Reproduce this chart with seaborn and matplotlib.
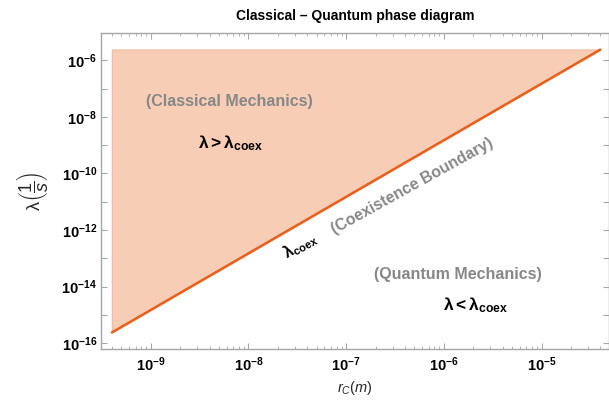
import numpy as np
import pandas as pd
import matplotlib
matplotlib.use('Agg')
import matplotlib.pyplot as plt
import matplotlib.ticker as mticker
import seaborn as sns

# boundary line lambda_coex(r_C)
r_c = [4e-10, 4e-5]
lam_coex = [2.4e-16, 2.4e-6]
lam_top = 2.4e-6  # top edge of the shaded classical region

x_ticks = [1e-9, 1e-8, 1e-7, 1e-6, 1e-5]
x_labels = ['-9', '-8', '-7', '-6', '-5']
y_ticks = [1e-16, 1e-14, 1e-12, 1e-10, 1e-8, 1e-6]
y_labels = ['-16', '-14', '-12', '-10', '-8', '-6']

sns.set_style('ticks')
plt.rcParams['font.family'] = ['Liberation Sans', 'DejaVu Sans']
plt.rcParams['text.color'] = 'black'
plt.rcParams['mathtext.fontset'] = 'custom'
plt.rcParams['mathtext.rm'] = 'Liberation Sans'
plt.rcParams['mathtext.it'] = 'Liberation Sans:italic'
plt.rcParams['mathtext.bf'] = 'Liberation Sans:bold'
plt.rcParams['mathtext.bfit'] = 'Liberation Sans:bold:italic'

frame = '#a6a6a6'
line_col = '#e8601c'
fill_col = '#f8cdb6'
gray_txt = '#878787'

df = pd.DataFrame({'r_c': r_c, 'lam': lam_coex})

fig = plt.figure(figsize=(6.09, 4.01), dpi=100)
ax = fig.add_axes([0.166, 0.13, 0.834, 0.7865])

ax.fill_between(df['r_c'], df['lam'], lam_top, color=fill_col, edgecolor='#f4bd9f',
                linewidth=1.0, zorder=1)
sns.lineplot(data=df, x='r_c', y='lam', ax=ax, color=line_col, linewidth=1.8, zorder=3)

ax.set_xscale('log')
ax.set_yscale('log')
ax.set_xlim(10 ** -9.509, 10 ** -4.309)
ax.set_ylim(10 ** -16.2, 10 ** -5.05)

ax.xaxis.set_major_locator(mticker.FixedLocator(x_ticks))
ax.xaxis.set_major_formatter(mticker.FixedFormatter(
    [r'$\mathbf{10^{%s}}$' % s for s in x_labels]))
ax.xaxis.set_minor_locator(mticker.LogLocator(base=10, subs=np.arange(2, 10), numticks=20))
ax.xaxis.set_minor_formatter(mticker.NullFormatter())

ax.yaxis.set_major_locator(mticker.FixedLocator(y_ticks))
ax.yaxis.set_major_formatter(mticker.FixedFormatter(
    [r'$\mathbf{10^{%s}}$' % s for s in y_labels]))
ax.yaxis.set_minor_locator(mticker.FixedLocator([10.0 ** k for k in range(-17, -4, 2)]))
ax.yaxis.set_minor_formatter(mticker.NullFormatter())

ax.tick_params(which='both', direction='in', top=True, right=True, color=frame,
               labelsize=10.5, labelcolor='black')
ax.tick_params(which='major', length=4, width=0.8)
ax.tick_params(axis='x', which='major', pad=5)
ax.tick_params(axis='y', which='major', pad=3)
ax.tick_params(which='minor', length=2.5, width=0.6)
ax.tick_params(axis='y', which='minor', length=4, width=0.8)
for s in ax.spines.values():
    s.set_color(frame)
    s.set_linewidth(1.0)

ax.set_xlabel(r'$r_C(m)$', fontsize=10.5)
ax.xaxis.set_label_coords(0.5, -0.097)
ax.set_ylabel(r'$\mathrm{\lambda}\left(\dfrac{1}{s}\right)$', fontsize=13)
ax.yaxis.set_label_coords(-0.10, 0.5)
ax.set_title('Classical – Quantum phase diagram', fontsize=10, fontweight='bold', pad=10)

ax.text(6.3e-9, 3.5e-8, '(Classical Mechanics)', color=gray_txt, fontsize=11.5,
        fontweight='bold', ha='center', va='center')
ax.text(6.5e-9, 1.2e-9, r'$\mathbf{\lambda > \lambda_{coex}}$', fontsize=12.5,
        ha='center', va='center')
ax.text(3.4e-8, 2.8e-13, r'$\mathbf{\lambda_{coex}}$', fontsize=11.5, rotation=29,
        ha='center', va='center')
ax.text(4.7e-7, 3.5e-11, '(Coexistence Boundary)', color=gray_txt, fontsize=11.4,
        fontweight='bold', rotation=29, ha='center', va='center')
ax.text(1.4e-6, 2.7e-14, '(Quantum Mechanics)', color=gray_txt, fontsize=11.5,
        fontweight='bold', ha='center', va='center')
ax.text(2.1e-6, 2.2e-15, r'$\mathbf{\lambda < \lambda_{coex}}$', fontsize=12.5,
        ha='center', va='center')

fig.savefig('out.png', dpi=100)
